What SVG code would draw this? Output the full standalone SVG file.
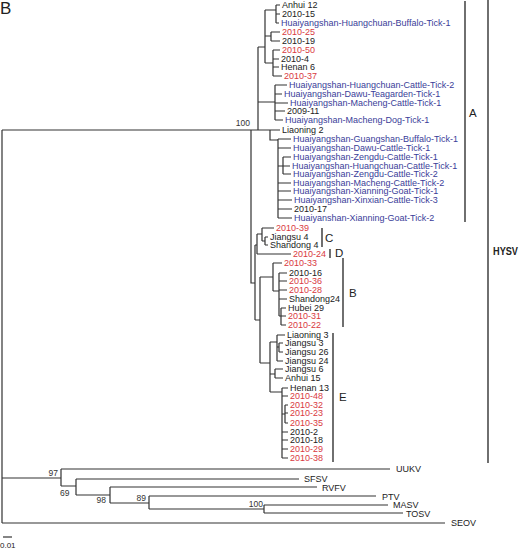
<svg xmlns="http://www.w3.org/2000/svg" width="528" height="549" viewBox="0 0 528 549">
<style>
text{font-family:"Liberation Sans",Arial,sans-serif;font-size:9px;fill:#222}
.r{fill:#d93a3f}
.b{fill:#3a3d99}
.bs{font-size:8.5px;fill:#333}
.cl{font-size:11.5px;fill:#222}
.t{fill:none;stroke:#333;stroke-width:1.2}
.bar{fill:none;stroke:#333;stroke-width:1.4}
</style>
<rect width="528" height="549" fill="#fff"/>
<text x="0" y="14" style="font-size:17px">B</text>
<g id="connectors" class="t">
<path d="M2,130V523M2,130H258M251,130V283H255M255,245V320"/>
<path d="M258,47V130M258,47H265M265,10V63M265,10H276M276,5V23M276,5H280M276,14H280M276,23H279M265,36H271M271,32V41M271,32H280M271,41H280M265,63H273M273,50V76M273,50H280M273,59H279M273,67H279M273,76H282M258,102H275M275,85V120M275,85H287M275,94H282M275,103H288M275,111H285M275,120H283"/>
<path d="M258,130H280M270,130V140H278M278,139V218M278,139H291M278,148H291M278,166H283M283,157V174M283,157H291M283,166H290M283,174H291M278,183H291M278,191H291M278,200H292M278,209H292M278,218H292"/>
<path d="M255,245H257M257,234V254M257,234H262M262,228V241M262,228H274M262,241H265M265,237V245M265,237H268M265,245H268M257,254H291"/>
<path d="M255,320H260M260,277V363M260,277H273M273,263V291M273,263H282M273,291H279M279,273V316M279,273H287M279,281H287M279,290H287M279,299H287M279,316H281M281,308V325M281,308H286M281,316H286M281,325H286"/>
<path d="M260,363H270M270,342V392M270,342H277M277,335V361M277,335H285M277,347H279M279,343V352M279,343H283M279,352H283M277,361H283M270,374H275M275,369V378M275,369H283M275,378H283M270,392H282M282,388V458M282,388H288M282,396H288M282,414H285M285,405V423M285,405H288M285,413H288M285,423H288M282,432H288M282,440H288M282,449H288M282,458H288"/>
<path d="M2,478H61M61,469V486M61,469H390M61,486H76M76,479V495M76,479H299M76,495H110M110,487V503M110,487H317M110,503H149M149,496V509M149,496H376M149,509H264M264,505V513M264,505H388M264,513H403M2,523H445"/>
<path d="M3,537H12"/>
</g>
<g id="bootstrap">
<text class="bs" x="250" y="126" text-anchor="end">100</text>
<text class="bs" x="58" y="476" text-anchor="end">97</text>
<text class="bs" x="60" y="496">69</text>
<text class="bs" x="106" y="503" text-anchor="end">98</text>
<text class="bs" x="146" y="501" text-anchor="end">89</text>
<text class="bs" x="263" y="507" text-anchor="end">100</text>
</g>
<g id="tip-1"><text x="282" y="8">Anhui 12</text></g>
<g id="tip-2"><text x="282" y="17">2010-15</text></g>
<g id="tip-3"><text class="b" x="281" y="26">Huaiyangshan-Huangchuan-Buffalo-Tick-1</text></g>
<g id="tip-4"><text class="r" x="282" y="35">2010-25</text></g>
<g id="tip-5"><text x="282" y="44">2010-19</text></g>
<g id="tip-6"><text class="r" x="282" y="53">2010-50</text></g>
<g id="tip-7"><text x="281" y="62">2010-4</text></g>
<g id="tip-8"><text x="281" y="70">Henan 6</text></g>
<g id="tip-9"><text class="r" x="284" y="79">2010-37</text></g>
<g id="tip-10"><text class="b" x="289" y="88">Huaiyangshan-Huangchuan-Cattle-Tick-2</text></g>
<g id="tip-11"><text class="b" x="284" y="97">Huaiyangshan-Dawu-Teagarden-Tick-1</text></g>
<g id="tip-12"><text class="b" x="290" y="106">Huaiyangshan-Macheng-Cattle-Tick-1</text></g>
<g id="tip-13"><text x="287" y="114">2009-11</text></g>
<g id="tip-14"><text class="b" x="285" y="123">Huaiyangshan-Macheng-Dog-Tick-1</text></g>
<g id="tip-15"><text x="282" y="133">Liaoning 2</text></g>
<g id="tip-16"><text class="b" x="293" y="142">Huaiyangshan-Guangshan-Buffalo-Tick-1</text></g>
<g id="tip-17"><text class="b" x="293" y="151">Huaiyangshan-Dawu-Cattle-Tick-1</text></g>
<g id="tip-18"><text class="b" x="293" y="160">Huaiyangshan-Zengdu-Cattle-Tick-1</text></g>
<g id="tip-19"><text class="b" x="292" y="169">Huaiyangshan-Huangchuan-Cattle-Tick-1</text></g>
<g id="tip-20"><text class="b" x="293" y="177">Huaiyangshan-Zengdu-Cattle-Tick-2</text></g>
<g id="tip-21"><text class="b" x="293" y="186">Huaiyangshan-Macheng-Cattle-Tick-2</text></g>
<g id="tip-22"><text class="b" x="293" y="194">Huaiyangshan-Xianning-Goat-Tick-1</text></g>
<g id="tip-23"><text class="b" x="294" y="203">Huaiyangshan-Xinxian-Cattle-Tick-3</text></g>
<g id="tip-24"><text x="294" y="212">2010-17</text></g>
<g id="tip-25"><text class="b" x="294" y="221">Huaiyanshan-Xianning-Goat-Tick-2</text></g>
<g id="tip-26"><text class="r" x="276" y="231">2010-39</text></g>
<g id="tip-27"><text x="270" y="240">Jiangsu 4</text></g>
<g id="tip-28"><text x="270" y="248">Shandong 4</text></g>
<g id="tip-29"><text class="r" x="293" y="257">2010-24</text></g>
<g id="tip-30"><text class="r" x="284" y="266">2010-33</text></g>
<g id="tip-31"><text x="289" y="276">2010-16</text></g>
<g id="tip-32"><text class="r" x="289" y="284">2010-36</text></g>
<g id="tip-33"><text class="r" x="289" y="293">2010-28</text></g>
<g id="tip-34"><text x="289" y="302">Shandong24</text></g>
<g id="tip-35"><text x="288" y="311">Hubei 29</text></g>
<g id="tip-36"><text class="r" x="288" y="319">2010-31</text></g>
<g id="tip-37"><text class="r" x="288" y="328">2010-22</text></g>
<g id="tip-38"><text x="287" y="338">Liaoning 3</text></g>
<g id="tip-39"><text x="285" y="346">Jiangsu 3</text></g>
<g id="tip-40"><text x="285" y="355">Jiangsu 26</text></g>
<g id="tip-41"><text x="285" y="364">Jiangsu 24</text></g>
<g id="tip-42"><text x="285" y="372">Jiangsu 6</text></g>
<g id="tip-43"><text x="285" y="381">Anhui 15</text></g>
<g id="tip-44"><text x="290" y="391">Henan 13</text></g>
<g id="tip-45"><text class="r" x="290" y="399">2010-48</text></g>
<g id="tip-46"><text class="r" x="290" y="408">2010-32</text></g>
<g id="tip-47"><text class="r" x="290" y="416">2010-23</text></g>
<g id="tip-48"><text class="r" x="290" y="426">2010-35</text></g>
<g id="tip-49"><text x="290" y="435">2010-2</text></g>
<g id="tip-50"><text x="290" y="443">2010-18</text></g>
<g id="tip-51"><text class="r" x="290" y="452">2010-29</text></g>
<g id="tip-52"><text class="r" x="290" y="461">2010-38</text></g>
<g id="UUKV"><text x="396" y="472">UUKV</text></g>
<g id="SFSV"><text x="304" y="482">SFSV</text></g>
<g id="RVFV"><text x="322" y="491">RVFV</text></g>
<g id="PTV"><text x="382" y="500">PTV</text></g>
<g id="MASV"><text x="393" y="508">MASV</text></g>
<g id="TOSV"><text x="406" y="517">TOSV</text></g>
<g id="SEOV"><text x="451" y="526">SEOV</text></g>
<g id="clade-A"><path class="bar" d="M465,1V222"/><text class="cl" x="469" y="117">A</text></g>
<g id="clade-C"><path class="bar" d="M322,228V247"/><text class="cl" x="325" y="242">C</text></g>
<g id="clade-D"><path class="bar" d="M330,249V258"/><text class="cl" x="335" y="257">D</text></g>
<g id="clade-B"><path class="bar" d="M343,258V327"/><text class="cl" x="349" y="297">B</text></g>
<g id="clade-E"><path class="bar" d="M333,333V462"/><text class="cl" x="339" y="401">E</text></g>
<g id="clade-HYSV"><path class="bar" d="M488,0V463"/><text x="493" y="255" style="font-size:11px;font-weight:bold" textLength="25" lengthAdjust="spacingAndGlyphs">HYSV</text></g>
<g id="scale"><text x="0" y="548" style="font-size:8px">0.01</text></g>
</svg>
